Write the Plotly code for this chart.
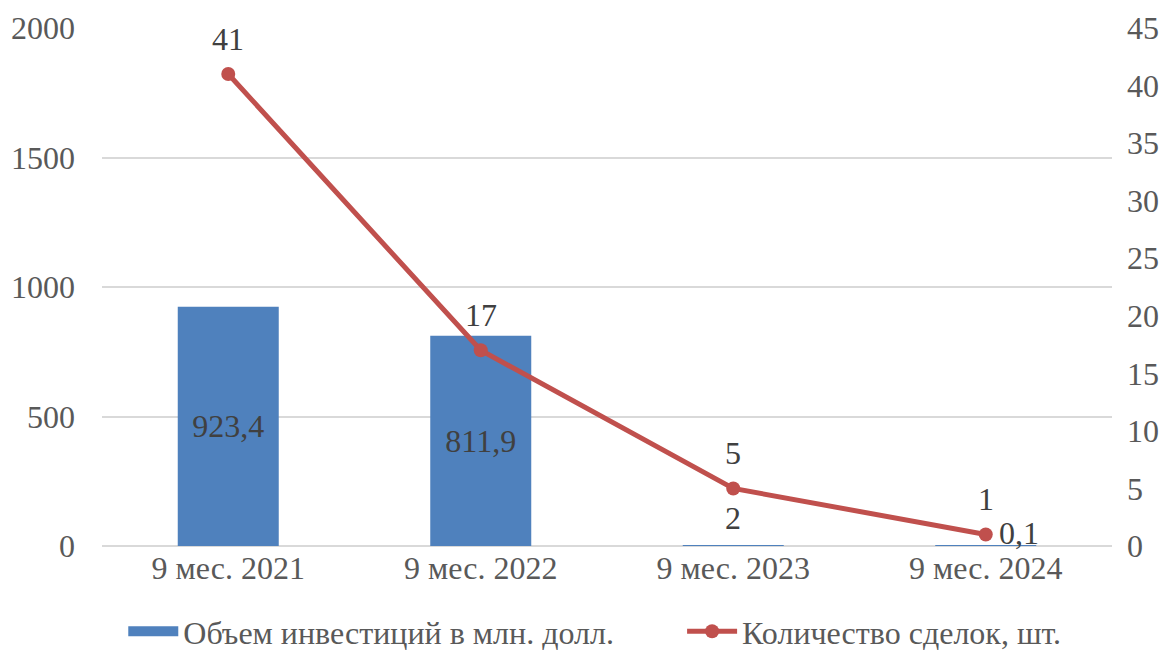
import plotly.graph_objects as go

categories = ["9 мес. 2021", "9 мес. 2022", "9 мес. 2023", "9 мес. 2024"]
investment = [923.4, 811.9, 2, 0.1]
investment_labels = ["923,4", "811,9", "2", "0,1"]
deals = [41, 17, 5, 1]
deal_labels = ["41", "17", "5", "1"]
left_ticks = [0, 500, 1000, 1500, 2000]
right_ticks = [0, 5, 10, 15, 20, 25, 30, 35, 40, 45]

FONT = "Liberation Serif"
FS = 32
GRAY = "#595959"
DARK = "#404040"
BLUE = "#4F81BD"
RED = "#C0504D"

fig = go.Figure()
fig.add_trace(go.Bar(
    x=categories, y=investment, name="Объем инвестиций в млн. долл.",
    marker=dict(color=BLUE, line=dict(width=0)),
    width=0.4, showlegend=False,
    text=[investment_labels[0], investment_labels[1], "", ""],
    textposition="inside", insidetextanchor="middle",
    textfont=dict(family=FONT, size=FS, color=DARK),
    constraintext="none", cliponaxis=False,
))
# legend entry for the bars (wide rectangle swatch)
fig.add_trace(go.Scatter(
    x=[None], y=[None], name="Объем инвестиций в млн. долл.",
    mode="lines", line=dict(color=BLUE, width=12), showlegend=True,
    legend="legend",
))
fig.add_trace(go.Scatter(
    x=categories, y=deals, name="Количество сделок, шт.", yaxis="y2",
    mode="lines+markers",
    line=dict(color=RED, width=5),
    marker=dict(color=RED, size=14),
    cliponaxis=False, legend="legend2",
))

annotations = []
for c, v, t in zip(categories, deals, deal_labels):
    annotations.append(dict(x=c, y=v, xref="x", yref="y2", text=t, showarrow=False,
                            yshift=35, font=dict(family=FONT, size=FS, color=DARK)))
annotations.append(dict(x=categories[2], y=investment[2], xref="x", yref="y",
                        text=investment_labels[2], showarrow=False, yshift=27,
                        font=dict(family=FONT, size=FS, color=DARK)))
annotations.append(dict(x=categories[3], y=investment[3], xref="x", yref="y",
                        text=investment_labels[3], showarrow=False, yshift=13, xshift=33,
                        font=dict(family=FONT, size=FS, color=DARK)))

legend_common = dict(orientation="h", xanchor="left", xref="container",
                     y=0.0, yanchor="bottom", yref="container",
                     font=dict(family=FONT, size=FS, color=GRAY),
                     itemwidth=50, tracegroupgap=0, bgcolor="rgba(0,0,0,0)")

fig.update_layout(
    width=1174, height=659,
    margin=dict(l=102, r=62, t=28, b=113, autoexpand=False),
    paper_bgcolor="white", plot_bgcolor="white",
    font=dict(family=FONT, size=FS, color=GRAY),
    showlegend=True,
    legend=dict(x=0.105, **legend_common),
    legend2=dict(x=0.581, **legend_common),
    xaxis=dict(showgrid=False, showline=False, ticks="", automargin=False,
               tickfont=dict(size=FS, color=GRAY)),
    yaxis=dict(range=[0, 2000], tickvals=left_ticks, showgrid=True, gridcolor="#D9D9D9",
               gridwidth=1.5, zeroline=True, zerolinecolor="#D9D9D9", zerolinewidth=1.5,
               showline=False, ticks="", ticklabelstandoff=26, automargin=False,
               tickfont=dict(size=FS, color=GRAY)),
    yaxis2=dict(range=[0, 45], tickvals=right_ticks, overlaying="y", side="right",
                showgrid=False, zeroline=False, showline=False, ticks="", automargin=False,
                ticklabelstandoff=14, tickfont=dict(size=FS, color=GRAY)),
    annotations=annotations,
)

fig.write_html("out.html", config={"displayModeBar": False},
               post_script="document.body.style.margin='0';document.body.style.overflow='hidden';")
